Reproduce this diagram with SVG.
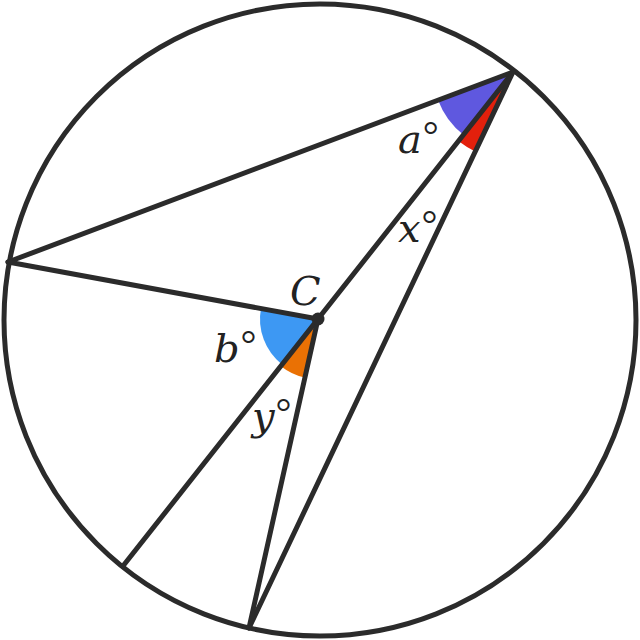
<svg xmlns="http://www.w3.org/2000/svg" width="640" height="640" viewBox="0 0 640 640">
<style>
.ln{stroke:#2b2b2b;stroke-width:5;fill:none;stroke-linecap:round}
.lbl{font-family:"DejaVu Serif","Liberation Serif",serif;font-style:italic;font-size:40px;fill:#222}
.deg{font-family:"Liberation Serif",serif;font-style:normal;font-size:40px}
</style>
<rect width="640" height="640" fill="#fff"/>
<g id="angles">
<path d="M513,72 L438.1,100.2 A80,80 0 0 0 463.4,134.8 Z" fill="#5f58df"/>
<path d="M513,72 L458.4,141.1 A88,88 0 0 0 475.1,151.4 Z" fill="#e3200c"/>
<path d="M318,319 L260.95,308.5 A58,58 0 0 0 281.9,364.4 Z" fill="#3d98f3"/>
<path d="M318,319 L280.6,365.9 A60,60 0 0 0 304.7,377.5 Z" fill="#ea7104"/>
</g>
<g id="connectors">
<circle class="ln" cx="320" cy="320" r="316"/>
<line class="ln" x1="513" y1="72" x2="8" y2="262"/>
<line class="ln" x1="8" y1="262" x2="318" y2="319"/>
<line class="ln" x1="513" y1="72" x2="123" y2="566"/>
<line class="ln" x1="513" y1="72" x2="249" y2="628"/>
<line class="ln" x1="318" y1="319" x2="249" y2="628"/>
</g>
<g id="center">
<circle cx="318" cy="319" r="6.5" fill="#2b2b2b"/>
<text class="lbl" x="290" y="305" font-size="35">C</text>
</g>
<g id="labels">
<text class="lbl" x="398" y="153">a<tspan class="deg" dx="1" dy="-4">°</tspan></text>
<text class="lbl" x="398" y="242">x<tspan class="deg" dx="1" dy="-4">°</tspan></text>
<text class="lbl" x="214" y="362">b<tspan class="deg" dx="1" dy="-4">°</tspan></text>
<text class="lbl" x="252" y="430">y<tspan class="deg" dx="1" dy="-4">°</tspan></text>
</g>
</svg>
